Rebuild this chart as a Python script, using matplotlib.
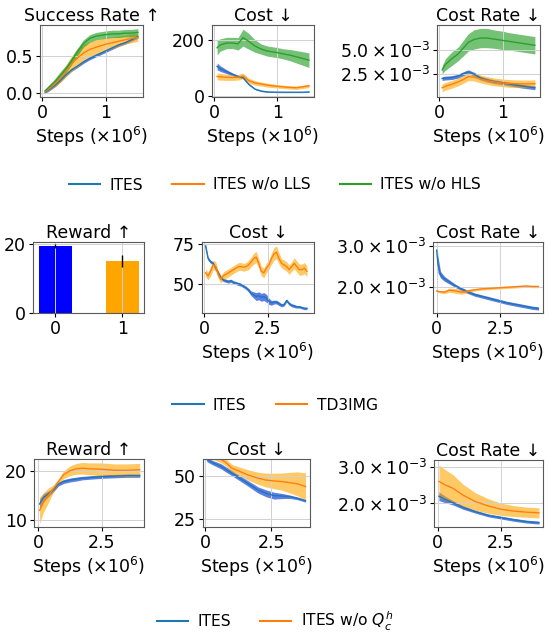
import numpy as np
import matplotlib
matplotlib.use('Agg')
import matplotlib.pyplot as plt
from matplotlib.lines import Line2D
from matplotlib.ticker import FuncFormatter

W, H = 550, 638
FS = 12.5

# ---------------- row 1 : ITES / w/o LLS / w/o HLS ----------------
steps1 = [0.05, 0.1, 0.2, 0.3, 0.38, 0.46, 0.55, 0.65, 0.75, 0.85, 1.0, 1.1, 1.2, 1.3, 1.4, 1.5]

succ_ites = [0.01, 0.04, 0.10, 0.18, 0.25, 0.31, 0.36, 0.42, 0.47, 0.51, 0.57, 0.61, 0.65, 0.68, 0.72, 0.76]
succ_ites_sd = [0.01, 0.02, 0.02, 0.02, 0.02, 0.02, 0.02, 0.02, 0.02, 0.02, 0.02, 0.02, 0.02, 0.02, 0.02, 0.02]
succ_lls = [0.02, 0.05, 0.12, 0.21, 0.30, 0.39, 0.47, 0.54, 0.59, 0.62, 0.66, 0.68, 0.70, 0.72, 0.74, 0.75]
succ_lls_sd = [0.01, 0.02, 0.04, 0.06, 0.08, 0.10, 0.12, 0.12, 0.11, 0.10, 0.09, 0.08, 0.07, 0.06, 0.06, 0.05]
succ_hls = [0.03, 0.07, 0.15, 0.25, 0.33, 0.43, 0.55, 0.67, 0.74, 0.77, 0.79, 0.80, 0.80, 0.81, 0.81, 0.82]
succ_hls_sd = [0.02, 0.03, 0.04, 0.05, 0.05, 0.05, 0.05, 0.05, 0.05, 0.05, 0.05, 0.05, 0.05, 0.05, 0.05, 0.05]

cost1_ites = [106, 98, 87, 77, 70, 66, 42, 25, 18, 15, 14, 14, 14, 14, 14, 15]
cost1_ites_sd = [12, 10, 7, 5, 4, 4, 3, 2, 2, 1.5, 1.5, 1.5, 1.5, 1.5, 1.5, 1.5]
cost1_lls = [70, 69, 67, 66, 67, 72, 55, 47, 43, 39, 35, 33, 31, 30, 33, 37]
cost1_lls_sd = [12, 12, 11, 10, 10, 10, 9, 8, 7, 7, 6, 6, 6, 6, 6, 6]
cost1_hls = [172, 182, 189, 189, 186, 208, 195, 178, 167, 160, 155, 150, 146, 140, 134, 128]
cost1_hls_sd = [25, 22, 20, 20, 22, 30, 28, 22, 18, 18, 18, 18, 20, 22, 24, 26]

# cost rate values in units of 1e-3
rate1_ites = [2.05, 2.10, 2.15, 2.30, 2.55, 2.75, 2.50, 2.10, 1.90, 1.75, 1.60, 1.48, 1.37, 1.27, 1.18, 1.10]
rate1_ites_sd = [0.2] * 16
rate1_lls = [1.10, 1.25, 1.45, 1.70, 1.95, 2.25, 2.20, 2.00, 1.85, 1.72, 1.60, 1.55, 1.52, 1.50, 1.50, 1.52]
rate1_lls_sd = [0.4] * 16
rate1_hls = [2.95, 3.50, 4.10, 4.60, 5.20, 5.80, 6.10, 6.25, 6.25, 6.15, 6.00, 5.90, 5.80, 5.70, 5.60, 5.50]
rate1_hls_sd = [0.4, 0.6, 0.7, 0.7, 0.8, 0.9, 1.0, 1.0, 1.0, 0.95, 0.95, 0.9, 0.9, 0.9, 0.9, 0.9]

# ---------------- row 2 : ITES / TD3IMG ----------------
bar_pos = [0, 1]
bar_reward = [19.3, 15.0]
bar_err = [0.5, 1.8]

steps2 = [0.05, 0.15, 0.25, 0.35, 0.45, 0.55, 0.65, 0.75, 0.85, 0.95, 1.05, 1.15, 1.25, 1.35,
          1.45, 1.55, 1.65, 1.75, 1.85, 1.95, 2.05, 2.15, 2.25, 2.35, 2.45, 2.55, 2.65, 2.75,
          2.85, 2.95, 3.05, 3.15, 3.25, 3.35, 3.45, 3.55, 3.65, 3.75, 3.85, 3.95, 4.05]
cost2_ites = [74, 66, 64, 63, 60, 57, 54, 52.5, 52, 51.5, 52, 51, 50.5, 50, 49.5, 48.5, 47.5, 46,
              44, 43, 42, 42.5, 41.5, 42, 41, 39, 38, 38.5, 38.5, 37.5, 36.5, 37, 39.5, 37.5,
              36.5, 36, 35.5, 35.5, 35, 34.5, 34.5]
cost2_ites_sd = [1.5, 1.2, 1.0, 1.0, 1.0, 1.0, 1.0, 1.0, 1.0, 1.0, 1.0, 1.0, 1.0, 1.0, 1.0, 1.0,
                 1.0, 1.2, 1.5, 2.0, 2.5, 2.5, 2.5, 2.5, 2.5, 2.0, 1.5, 1.2, 1.2, 1.2, 1.0, 1.0,
                 1.0, 1.0, 1.0, 1.0, 0.8, 0.8, 0.8, 0.8, 0.8]
cost2_td3 = [57, 55, 58, 62, 61, 56, 53, 55, 56, 57, 58, 59, 60, 61, 61, 60.5, 61, 62, 64, 66,
             67, 63, 58, 57, 60, 62, 66, 69, 70, 66, 63, 62, 61, 59, 61, 63, 61, 59, 59, 60, 58]
cost2_td3_sd = [2.5, 2.5, 3.0, 3.0, 3.0, 2.5, 2.5, 2.5, 2.5, 2.5, 2.5, 2.5, 2.5, 2.5, 2.5, 2.5,
                2.5, 3.0, 3.0, 3.5, 3.5, 3.0, 3.0, 3.0, 3.0, 3.0, 3.5, 4.0, 4.0, 3.5, 3.0, 3.0,
                3.0, 3.0, 3.0, 3.5, 3.5, 3.5, 3.5, 3.5, 3.5]

steps2r = [0.0, 0.05, 0.15, 0.3, 0.5, 0.75, 1.0, 1.25, 1.5, 1.75, 2.0, 2.25, 2.5, 2.75, 3.0, 3.25, 3.5, 3.75, 4.0]
rate2_ites = [2.90, 2.55, 2.30, 2.20, 2.12, 2.02, 1.94, 1.87, 1.81, 1.77, 1.73, 1.69, 1.65, 1.61, 1.58, 1.55, 1.52, 1.49, 1.47]
rate2_ites_sd = [0.12, 0.20, 0.08, 0.06, 0.05, 0.04, 0.04, 0.04, 0.04, 0.04, 0.04, 0.04, 0.04, 0.04, 0.04, 0.04, 0.04, 0.04, 0.04]
rate2_td3 = [1.90, 1.89, 1.88, 1.87, 1.92, 1.90, 1.87, 1.90, 1.93, 1.95, 1.96, 1.97, 1.98, 1.99, 2.00, 2.01, 2.02, 2.01, 2.01]
rate2_td3_sd = [0.03, 0.03, 0.03, 0.04, 0.05, 0.06, 0.05, 0.04, 0.03, 0.03, 0.03, 0.03, 0.03, 0.03, 0.03, 0.03, 0.03, 0.03, 0.03]

# ---------------- row 3 : ITES / w/o Q_c^h ----------------
steps3 = [0.05, 0.2, 0.4, 0.6, 0.8, 1.0, 1.25, 1.5, 1.75, 2.0, 2.5, 3.0, 3.5, 4.0]
rew3_ites = [13.2, 14.5, 15.3, 16.1, 17.3, 17.8, 18.1, 18.3, 18.5, 18.6, 18.8, 18.9, 19.0, 19.0]
rew3_ites_sd = [1.0, 0.8, 0.6, 0.4, 0.4, 0.4, 0.4, 0.4, 0.35, 0.35, 0.35, 0.35, 0.35, 0.35]
rew3_noq = [11.9, 13.5, 15.0, 16.4, 17.8, 19.2, 20.0, 20.4, 20.5, 20.4, 20.3, 20.1, 20.1, 20.2]
rew3_noq_sd = [2.7, 2.0, 1.5, 0.7, 0.6, 0.8, 1.0, 1.1, 1.2, 1.2, 1.3, 1.3, 1.3, 1.3]

steps3c = [0.05, 0.3, 0.6, 0.8, 1.0, 1.3, 1.6, 2.0, 2.3, 2.6, 2.9, 3.2, 3.5, 3.8]
cost3_ites = [59.5, 57.5, 55.5, 53.5, 51.6, 48.6, 45.7, 41.7, 39.8, 38.4, 38.2, 37.8, 36.8, 35.4]
cost3_ites_sd = [1.2, 1.3, 1.5, 1.5, 1.5, 1.5, 1.6, 1.8, 2.0, 2.0, 1.5, 1.0, 0.8, 0.8]
cost3_noq = [63, 61.5, 59.5, 57.5, 54.5, 52.6, 50.6, 48.6, 47.5, 47.0, 46.6, 46.0, 45.3, 43.7]
cost3_noq_sd = [2.0, 2.0, 2.0, 2.0, 2.2, 2.5, 3.0, 3.5, 4.0, 4.5, 5.0, 6.0, 7.0, 8.0]

steps3r = [0.05, 0.3, 0.6, 1.0, 1.5, 2.0, 2.5, 3.0, 3.5, 4.0]
rate3_ites = [2.20, 2.11, 2.02, 1.89, 1.77, 1.67, 1.61, 1.55, 1.50, 1.47]
rate3_ites_sd = [0.12, 0.09, 0.06, 0.05, 0.04, 0.04, 0.04, 0.04, 0.04, 0.04]
rate3_noq = [2.61, 2.51, 2.42, 2.23, 2.05, 1.93, 1.84, 1.79, 1.76, 1.74]
rate3_noq_sd = [0.45, 0.42, 0.38, 0.30, 0.24, 0.20, 0.17, 0.15, 0.14, 0.14]

LINE = {'b': '#1f77b4', 'o': '#ff7f0e', 'g': '#2ca02c'}
FILL = {'b': ('#4169e1', 0.85), 'o': ('#ffa500', 0.6), 'g': ('#2ca02c', 0.65)}

fig = plt.figure(figsize=(W / 100, H / 100), dpi=100)


def place(x0, y0, x1, y1):
    return fig.add_axes([x0 / W, 1 - y1 / H, (x1 - x0) / W, (y1 - y0) / H])


def curve(ax, x, mean, sd, c, scale=1.0):
    x = np.array(x)
    m = np.array(mean) * scale
    s = np.array(sd) * scale
    fc, a = FILL[c]
    ax.fill_between(x, m - s, m + s, color=fc, alpha=a, linewidth=0)
    ax.plot(x, m, color=LINE[c], linewidth=1.0)


def style(ax, title, xlabel=True):
    ax.set_title(title, fontsize=FS, pad=3)
    ax.tick_params(labelsize=FS, length=3, width=0.8, pad=2)
    ax.grid(True, color='0.82', linewidth=0.7)
    for s in ax.spines.values():
        s.set_edgecolor('0.35')
    if xlabel:
        ax.set_xlabel(r'Steps ($\times10^6$)', fontsize=FS, labelpad=2)


sci = FuncFormatter(lambda v, p: r'$%.1f\times10^{-3}$' % (v * 1e3))

# row 1
ax = place(40, 25, 143, 97)
curve(ax, steps1, succ_ites, succ_ites_sd, 'b')
curve(ax, steps1, succ_lls, succ_lls_sd, 'o')
curve(ax, steps1, succ_hls, succ_hls_sd, 'g')
ax.set_xlim(-0.03, 1.58); ax.set_ylim(-0.055, 0.92)
ax.set_xticks([0, 1], ['0', '1']); ax.set_yticks([0, 0.5], ['0.0', '0.5'])
style(ax, 'Success Rate ↑')

ax = place(212, 25, 314, 97)
curve(ax, steps1, cost1_ites, cost1_ites_sd, 'b')
curve(ax, steps1, cost1_lls, cost1_lls_sd, 'o')
curve(ax, steps1, cost1_hls, cost1_hls_sd, 'g')
ax.set_xlim(-0.03, 1.58); ax.set_ylim(-3, 253)
ax.set_xticks([0, 1], ['0', '1']); ax.set_yticks([0, 200])
style(ax, 'Cost ↓')

ax = place(437, 25, 540, 97)
curve(ax, steps1, rate1_ites, rate1_ites_sd, 'b', 1e-3)
curve(ax, steps1, rate1_lls, rate1_lls_sd, 'o', 1e-3)
curve(ax, steps1, rate1_hls, rate1_hls_sd, 'g', 1e-3)
ax.set_xlim(-0.03, 1.58); ax.set_ylim(0.14e-3, 7.6e-3)
ax.set_xticks([0, 1], ['0', '1']); ax.set_yticks([2.5e-3, 5e-3])
ax.yaxis.set_major_formatter(sci)
style(ax, 'Cost Rate ↓')

# row 2
ax = place(33, 242, 144, 313)
ax.bar(bar_pos, bar_reward, width=0.5, yerr=bar_err, color=['#0000ff', '#ffa500'],
       ecolor='black', error_kw={'elinewidth': 1.0})
ax.set_xlim(-0.335, 1.325); ax.set_ylim(0, 20.5)
ax.set_xticks([0, 1]); ax.set_yticks([0, 20])
style(ax, 'Reward ↑', xlabel=False)

ax = place(202, 242, 314, 313)
curve(ax, steps2, cost2_ites, cost2_ites_sd, 'b')
curve(ax, steps2, cost2_td3, cost2_td3_sd, 'o')
ax.set_xlim(-0.09, 4.33); ax.set_ylim(31.6, 76.5)
ax.set_xticks([0, 2.5], ['0', '2.5']); ax.set_yticks([50, 75])
style(ax, 'Cost ↓')

ax = place(433, 242, 543, 313)
curve(ax, steps2r, rate2_ites, rate2_ites_sd, 'b', 1e-3)
curve(ax, steps2r, rate2_td3, rate2_td3_sd, 'o', 1e-3)
ax.set_xlim(-0.145, 4.18); ax.set_ylim(1.36e-3, 3.1e-3)
ax.set_xticks([0, 2.5], ['0', '2.5']); ax.set_yticks([2e-3, 3e-3])
ax.yaxis.set_major_formatter(sci)
style(ax, 'Cost Rate ↓')

# row 3
ax = place(34, 459, 144, 527)
curve(ax, steps3, rew3_ites, rew3_ites_sd, 'b')
curve(ax, steps3, rew3_noq, rew3_noq_sd, 'o')
ax.set_xlim(-0.17, 4.17); ax.set_ylim(8.5, 22.4)
ax.set_xticks([0, 2.5], ['0', '2.5']); ax.set_yticks([10, 20])
style(ax, 'Reward ↑')

ax = place(203, 459, 310, 527)
curve(ax, steps3c, cost3_ites, cost3_ites_sd, 'b')
curve(ax, steps3c, cost3_noq, cost3_noq_sd, 'o')
ax.set_xlim(-0.09, 3.97); ax.set_ylim(20.1, 59.8)
ax.set_xticks([0, 2.5], ['0', '2.5']); ax.set_yticks([25, 50])
style(ax, 'Cost ↓')

ax = place(434, 460, 543, 527)
curve(ax, steps3r, rate3_ites, rate3_ites_sd, 'b', 1e-3)
curve(ax, steps3r, rate3_noq, rate3_noq_sd, 'o', 1e-3)
ax.set_xlim(-0.145, 4.16); ax.set_ylim(1.35e-3, 3.2e-3)
ax.set_xticks([0, 2.5], ['0', '2.5']); ax.set_yticks([2e-3, 3e-3])
ax.yaxis.set_major_formatter(sci)
style(ax, 'Cost Rate ↓')


# legends
def legend(labels, colors, ycenter):
    handles = [Line2D([], [], color=LINE[c], linewidth=1.5) for c in colors]
    fig.legend(handles, labels, loc='center', bbox_to_anchor=(0.5, 1 - ycenter / H),
               ncol=len(labels), frameon=False, fontsize=11.2, handletextpad=0.6,
               columnspacing=1.9)


legend(['ITES', 'ITES w/o LLS', 'ITES w/o HLS'], ['b', 'o', 'g'], 185)
legend(['ITES', 'TD3IMG'], ['b', 'o'], 405)
legend(['ITES', r'ITES w/o $Q_c^h$'], ['b', 'o'], 621)

fig.savefig('out.png', dpi=100)
